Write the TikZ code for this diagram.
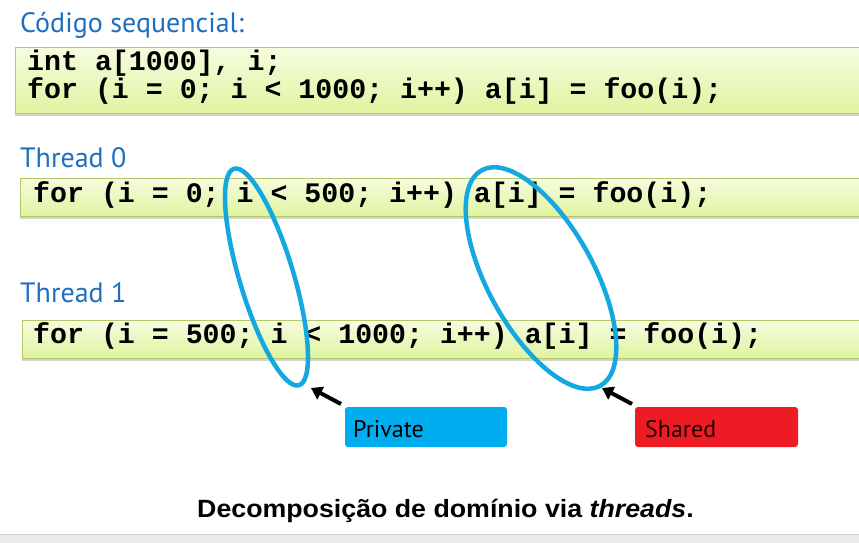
\documentclass[tikz,border=0pt]{standalone}
\usepackage{fontspec}
\usepackage{graphicx}
\setmainfont{PT Sans}
\newfontfamily\codefont{Liberation Mono}
\newfontfamily\capfont{Liberation Sans}
\usetikzlibrary{arrows.meta,shadows}
\definecolor{titleblue}{HTML}{1F6FC0}
\definecolor{ringblue}{HTML}{14A8E0}
\definecolor{codeborder}{HTML}{B4C86A}
\definecolor{codetop}{HTML}{F5FCDF}
\definecolor{codebot}{HTML}{E0F4A0}
\definecolor{privfill}{HTML}{00AEEF}
\definecolor{sharefill}{HTML}{ED1C24}
\definecolor{bandgray}{HTML}{EBEBEB}
\definecolor{bandline}{HTML}{CFCFCF}
\tikzset{
  heading/.style={anchor=base west, inner sep=0pt, text=titleblue, font=\fontsize{28}{30}\selectfont},
  codebox/.style={draw=codeborder, line width=1pt, top color=codetop, bottom color=codebot,
    drop shadow={shadow xshift=0pt, shadow yshift=-3pt, fill=black!35, opacity=0.5}},
  codeline/.style={anchor=base west, inner sep=0pt, align=left, font=\codefont\bfseries\fontsize{28.25}{25}\selectfont},
  ring/.style={draw=ringblue, line width=4.5pt},
  tagbox/.style={rounded corners=3pt, draw=none},
  tagtext/.style={anchor=base west, inner sep=0pt, font=\fontsize{24}{26}\selectfont},
  pointer/.style={line width=4pt, -{Triangle[length=11pt,width=14pt]}}
}
\begin{document}
\begin{tikzpicture}[x=1pt,y=-1pt]
\clip (0,0) rectangle (859,543);
\fill[white] (0,0) rectangle (859,543);
% headings
\node[heading] (h0) at (20,33) {Código sequencial:};
\node[heading] (h1) at (20,167) {Thread 0};
\node[heading] (h2) at (20,302) {Thread 1};
% code boxes
\path[codebox] (15,48) rectangle (875,113);
\path[codebox] (20,178) rectangle (875,216);
\path[codebox] (22,320) rectangle (875,358);
\node[codeline] (c1) at (27,98) {int a[1000], i;\\for (i = 0; i < 1000; i++) a[i] = foo(i);};
\node[codeline] (c3) at (33,202) {for (i = 0; i < 500; i++) a[i] = foo(i);};
\node[codeline] (c4) at (33,343) {for (i = 500; i < 1000; i++) a[i] = foo(i);};
% rings
\draw[ring, rotate around={16.7:(266.5,277)}] (266.5,277) ellipse [x radius=27, y radius=113];
\draw[ring, rotate around={28.8:(541,278)}] (541,278) ellipse [x radius=53, y radius=123];
\coordinate (privtip) at (311,388);
\coordinate (sharetip) at (602,388);
% tags
\path[tagbox, fill=privfill] (345,407) rectangle (507,447);
\node[tagtext] (priv) at (353,437) {Private};
\path[tagbox, fill=sharefill] (635,407) rectangle (798,447);
\node[tagtext, text=black!85!red] (share) at (645,437) {Shared};
\coordinate (privtail) at (341,404);
\coordinate (sharetail) at (632,404);
\draw[pointer] (privtail) -- (privtip);
\draw[pointer] (sharetail) -- (sharetip);
% caption
\node[anchor=base west, inner sep=0pt, font=\capfont\bfseries\fontsize{25}{27}\selectfont] (cap) at (197,517) {\scalebox{1.07}[1]{Decomposição de domínio via \textit{threads}.}};
% bottom band
\fill[bandgray] (0,534) rectangle (859,543);
\draw[bandline, line width=1pt] (0,534) -- (859,534);
\end{tikzpicture}
\end{document}
